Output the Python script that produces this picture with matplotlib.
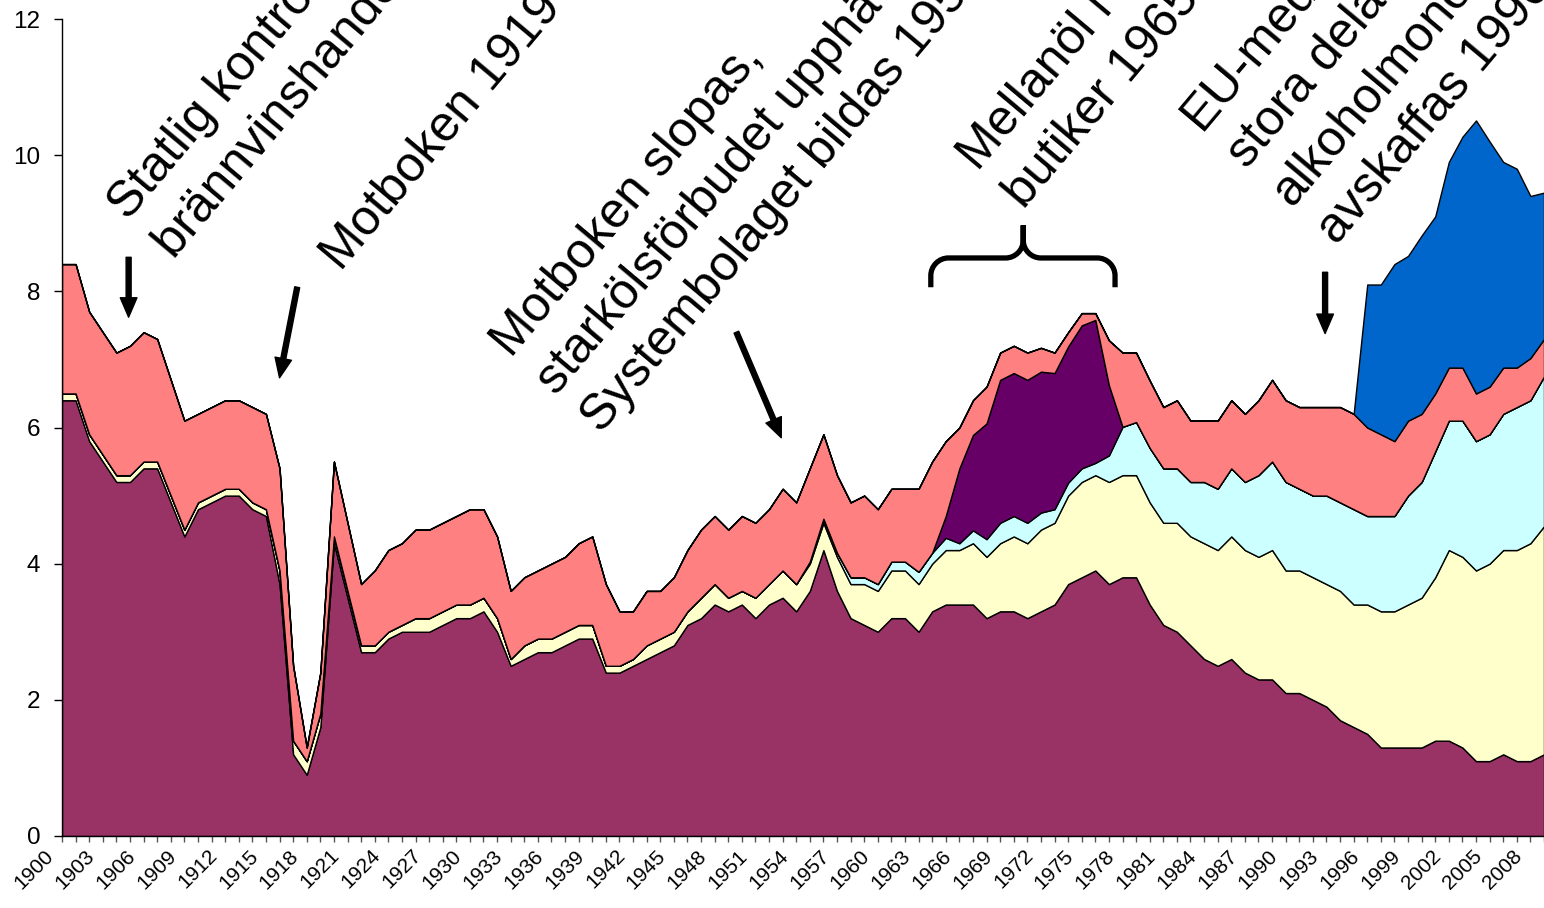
import numpy as np
import matplotlib
matplotlib.use("Agg")
import matplotlib.pyplot as plt
from matplotlib import transforms
from matplotlib.path import Path
from matplotlib.patches import PathPatch

plt.rcParams['font.family'] = ['Liberation Sans', 'DejaVu Sans']

# litres of pure alcohol per inhabitant, 1900-2009
years = np.arange(1900, 2010)

spirits = [6.4, 6.4, 5.8, 5.5, 5.2, 5.2, 5.4, 5.4, 4.9, 4.4,
           4.8, 4.9, 5.0, 5.0, 4.8, 4.7, 3.7, 1.2, 0.9, 1.6,
           4.3, 3.5, 2.7, 2.7, 2.9, 3.0, 3.0, 3.0, 3.1, 3.2,
           3.2, 3.3, 3.0, 2.5, 2.6, 2.7, 2.7, 2.8, 2.9, 2.9,
           2.4, 2.4, 2.5, 2.6, 2.7, 2.8, 3.1, 3.2, 3.4, 3.3,
           3.4, 3.2, 3.4, 3.5, 3.3, 3.6, 4.2, 3.6, 3.2, 3.1,
           3.0, 3.2, 3.2, 3.0, 3.3, 3.4, 3.4, 3.4, 3.2, 3.3,
           3.3, 3.2, 3.3, 3.4, 3.7, 3.8, 3.9, 3.7, 3.8, 3.8,
           3.4, 3.1, 3.0, 2.8, 2.6, 2.5, 2.6, 2.4, 2.3, 2.3,
           2.1, 2.1, 2.0, 1.9, 1.7, 1.6, 1.5, 1.3, 1.3, 1.3,
           1.3, 1.4, 1.4, 1.3, 1.1, 1.1, 1.2, 1.1, 1.1, 1.2]

wine = [0.1, 0.1, 0.1, 0.1, 0.1, 0.1, 0.1, 0.1, 0.1, 0.1,
        0.1, 0.1, 0.1, 0.1, 0.1, 0.1, 0.2, 0.2, 0.2, 0.2,
        0.1, 0.1, 0.1, 0.1, 0.1, 0.1, 0.2, 0.2, 0.2, 0.2,
        0.2, 0.2, 0.2, 0.1, 0.2, 0.2, 0.2, 0.2, 0.2, 0.2,
        0.1, 0.1, 0.1, 0.2, 0.2, 0.2, 0.2, 0.3, 0.3, 0.2,
        0.2, 0.3, 0.3, 0.4, 0.4, 0.4, 0.4, 0.5, 0.5, 0.6,
        0.6, 0.7, 0.7, 0.7, 0.7, 0.8, 0.8, 0.9, 0.9, 1.0,
        1.1, 1.1, 1.2, 1.2, 1.3, 1.4, 1.4, 1.5, 1.5, 1.5,
        1.5, 1.5, 1.6, 1.6, 1.7, 1.7, 1.8, 1.8, 1.8, 1.9,
        1.8, 1.8, 1.8, 1.8, 1.9, 1.8, 1.9, 2.0, 2.0, 2.1,
        2.2, 2.4, 2.8, 2.8, 2.8, 2.9, 3.0, 3.1, 3.2, 3.35]

strong_beer = [0.0] * 55 + [
    0.03, 0.06, 0.06, 0.1, 0.1, 0.1, 0.13, 0.13, 0.18, 0.16,
    0.18, 0.1, 0.19, 0.26, 0.3, 0.3, 0.3, 0.25, 0.2, 0.19,
    0.2, 0.18, 0.39, 0.71, 0.78, 0.8, 0.8, 0.8, 0.8, 0.9,
    0.9, 1.0, 1.0, 1.2, 1.3, 1.3, 1.2, 1.2, 1.3, 1.3,
    1.4, 1.3, 1.4, 1.4, 1.6, 1.7, 1.85, 1.9, 2.0, 1.9,
    1.9, 2.0, 2.1, 2.1, 2.2]

medium_beer = [0.0] * 65 + [
    0.32, 1.1, 1.4, 1.7, 2.1, 2.1, 2.1, 2.07, 2.0, 2.0,
    2.1, 2.1, 1.03] + [0.0] * 32

beer = [1.9, 1.9, 1.8, 1.8, 1.8, 1.9, 1.9, 1.8, 1.7, 1.6,
        1.3, 1.3, 1.3, 1.3, 1.4, 1.4, 1.5, 1.1, 0.2, 0.6,
        1.1, 1.0, 0.9, 1.1, 1.2, 1.2, 1.3, 1.3, 1.3, 1.3,
        1.4, 1.3, 1.2, 1.0, 1.0, 1.0, 1.1, 1.1, 1.2, 1.3,
        1.2, 0.8, 0.7, 0.8, 0.7, 0.8, 0.9, 1.0, 1.0, 1.0,
        1.1, 1.1, 1.1, 1.2, 1.2, 1.37, 1.24, 1.14, 1.1, 1.2,
        1.1, 1.07, 1.07, 1.22, 1.34, 1.1, 0.6, 0.51, 0.54, 0.4,
        0.4, 0.4, 0.35, 0.3, 0.21, 0.18, 0.1, 0.66, 1.09, 1.02,
        0.99, 0.9, 1.0, 0.9, 0.9, 1.0, 1.0, 1.0, 1.1, 1.2,
        1.2, 1.2, 1.3, 1.3, 1.4, 1.4, 1.3, 1.2, 1.1, 1.1,
        1.0, 0.85, 0.78, 0.78, 0.7, 0.7, 0.68, 0.58, 0.62, 0.55]

unregistered = [0.0] * 96 + [
    2.1, 2.2, 2.6, 2.42, 2.62, 2.6, 3.02, 3.39, 4.01, 3.6,
    3.02, 2.92, 2.38, 2.15]

colors = ['#993366', '#FFFFCC', '#CCFFFF', '#660066', '#FF8080', '#0066CC']

fig = plt.figure(figsize=(15.44, 9.08), dpi=100)
ax = fig.add_axes([62 / 1544, 72 / 908, 1482 / 1544, 817 / 908])

ax.stackplot(years, spirits, wine, strong_beer, medium_beer, beer, unregistered,
             colors=colors, edgecolor='black', linewidth=1.0)

ax.set_xlim(1900, 2009)
ax.set_ylim(0, 12)
ax.set_yticks(range(0, 13, 2))
ax.tick_params(axis='y', direction='out', length=5.5, width=1, labelsize=17.5, pad=10)

ax.set_xticks(years)
ax.set_xticklabels([str(y) if (y - 1900) % 3 == 0 else '' for y in years])
ax.tick_params(axis='x', direction='out', length=4.3, width=1, color='#555555',
               labelsize=15, pad=2)
for lab in ax.get_xticklabels():
    lab.set_rotation(45)
    lab.set_rotation_mode('anchor')
    lab.set_ha('right')
    lab.set_va('center')
    lab.set_transform(lab.get_transform() +
                      transforms.ScaledTranslation(-11 / 100, -8 / 100, fig.dpi_scale_trans))

for s in ['top', 'right']:
    ax.spines[s].set_visible(False)
ax.spines['left'].set_linewidth(1)
ax.spines['bottom'].set_linewidth(1)


def note(lines, x, y, step=59):
    # one text per line, shifted perpendicular to the 50 degree baseline
    for i, line in enumerate(lines):
        tr = transforms.offset_copy(ax.transData, fig=fig, x=0.766 * step * i,
                                    y=-0.643 * step * i, units='dots')
        ax.text(x, y, line, transform=tr, rotation=50, rotation_mode='anchor',
                ha='left', va='baseline', fontsize=36, clip_on=False)


note(['Statlig kontroll av', 'brännvinshandeln 1905'], 1904.9, 9.02)
note(['Motboken 1919'], 1920.55, 8.28)
note(['Motboken slopas,', 'starkölsförbudet upphävs,', 'Systembolaget bildas 1955'],
     1933.05, 7.01)
note(['Mellanöl i', 'butiker 1965-1977'], 1967.4, 9.75)
note(['EU-medlemskap,', 'stora delar av', 'alkoholmonopolet', 'avskaffas 1996'],
     1983.8, 10.34)

arrow = dict(facecolor='black', edgecolor='black', width=3.6, headwidth=12,
             headlength=14, shrink=0)
ax.annotate('', xy=(1904.9, 7.62), xytext=(1904.9, 8.5), arrowprops=arrow,
            annotation_clip=False)
ax.annotate('', xy=(1916.0, 6.73), xytext=(1917.3, 8.06), arrowprops=arrow,
            annotation_clip=False)
ax.annotate('', xy=(1952.9, 5.85), xytext=(1949.6, 7.4), arrowprops=arrow,
            annotation_clip=False)
ax.annotate('', xy=(1992.9, 7.38), xytext=(1992.9, 8.28), arrowprops=arrow,
            annotation_clip=False)

# curly brace over the mellanöl years
x1, x2, xm = 1963.9, 1977.45, 1970.7
yb, yl, yt = 8.06, 8.49, 8.97
rx, ry = 1.3, 0.26
verts = [(x1, yb), (x1, yl - ry),
         (x1, yl - 0.45 * ry), (x1 + 0.45 * rx, yl), (x1 + rx, yl),
         (xm - rx, yl),
         (xm - 0.45 * rx, yl), (xm, yl + 0.45 * ry), (xm, yl + ry),
         (xm, yt), (xm, yl + ry),
         (xm, yl + 0.45 * ry), (xm + 0.45 * rx, yl), (xm + rx, yl),
         (x2 - rx, yl),
         (x2 - 0.45 * rx, yl), (x2, yl - 0.45 * ry), (x2, yl - ry),
         (x2, yb)]
codes = [Path.MOVETO, Path.LINETO,
         Path.CURVE4, Path.CURVE4, Path.CURVE4,
         Path.LINETO,
         Path.CURVE4, Path.CURVE4, Path.CURVE4,
         Path.LINETO, Path.LINETO,
         Path.CURVE4, Path.CURVE4, Path.CURVE4,
         Path.LINETO,
         Path.CURVE4, Path.CURVE4, Path.CURVE4,
         Path.LINETO]
ax.add_patch(PathPatch(Path(verts, codes), facecolor='none', edgecolor='black',
                       linewidth=3.8, clip_on=False))

fig.savefig('out.png', dpi=100)
